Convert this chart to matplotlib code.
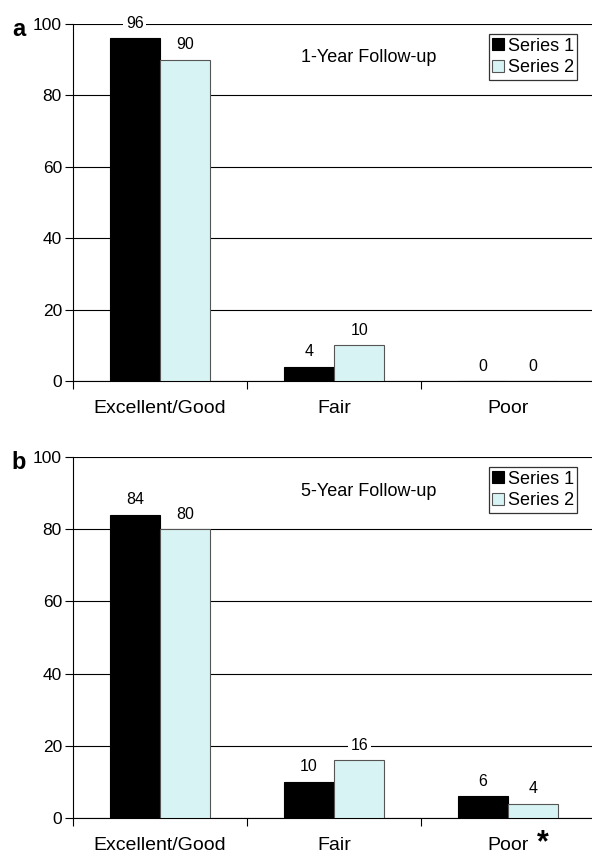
import matplotlib
matplotlib.use("Agg")
import matplotlib.pyplot as plt
import numpy as np

plt.rcParams['font.family'] = ['Liberation Sans', 'DejaVu Sans']

categories = ["Excellent/Good", "Fair", "Poor"]
series_names = ["Series 1", "Series 2"]
one_year_s1 = [96, 4, 0]
one_year_s2 = [90, 10, 0]
five_year_s1 = [84, 10, 6]
five_year_s2 = [80, 16, 4]
yticks = [0, 20, 40, 60, 80, 100]

black = "#000000"
cyan = "#d8f3f3"

fig = plt.figure(figsize=(5.92, 8.55), dpi=100)
# axes run a little past the right edge of the picture, as in the original
ax_a = fig.add_axes([73 / 592, 1 - 381 / 855, 522 / 592, 357 / 855])
ax_b = fig.add_axes([73 / 592, 1 - 818 / 855, 522 / 592, 361 / 855])


def draw_panel(ax, s1, s2, title, letter):
    x = np.arange(len(categories))
    w = 0.29
    b1 = ax.bar(x - w / 2, s1, w, color=black, edgecolor=black, linewidth=0.8,
                label=series_names[0], zorder=3)
    b2 = ax.bar(x + w / 2, s2, w, color=cyan, edgecolor="#555555", linewidth=0.8,
                label=series_names[1], zorder=3)
    for bars in (b1, b2):
        for r in bars:
            h = r.get_height()
            ax.annotate("%d" % h, (r.get_x() + r.get_width() / 2, h),
                        xytext=(0, 15), textcoords="offset pixels",
                        ha="center", va="center", fontsize=11.5,
                        bbox=dict(boxstyle="square,pad=0.15", fc="white", ec="none"),
                        zorder=4, annotation_clip=False)
    ax.set_xlim(-0.5, 2.5)
    ax.set_ylim(0, 100)
    ax.set_yticks(yticks)
    ax.yaxis.grid(True, color="black", linewidth=0.8, zorder=0)
    ax.set_axisbelow(True)
    ax.set_xticks([-0.5, 0.5, 1.5, 2.5])
    ax.set_xticklabels([])
    ax.set_xticks(x, minor=True)
    ax.set_xticklabels(categories, minor=True, fontsize=14)
    ax.tick_params(axis="x", which="minor", length=0, pad=14)
    ax.tick_params(axis="x", which="major", length=6, direction="out", width=0.8)
    ax.tick_params(axis="y", length=6, direction="out", width=0.8, labelsize=12.5, pad=2)
    for s in ("top", "right"):
        ax.spines[s].set_visible(False)
    ax.spines["left"].set_linewidth(0.8)
    ax.spines["bottom"].set_linewidth(0.8)
    ax.text(0.567, 0.905, title, transform=ax.transAxes, ha="center", va="center",
            fontsize=13)
    leg = ax.legend(loc="upper right", bbox_to_anchor=(0.966, 0.972), frameon=True,
                    fancybox=False, edgecolor="black", fontsize=13,
                    handlelength=0.65, handleheight=0.65, handletextpad=0.2,
                    borderpad=0.2, labelspacing=0.25, borderaxespad=0.0)
    leg.get_frame().set_linewidth(0.9)
    ax.text(-0.104, 0.985, letter, transform=ax.transAxes, ha="center", va="center",
            fontsize=17, fontweight="bold")


draw_panel(ax_a, one_year_s1, one_year_s2, "1-Year Follow-up", "a")
draw_panel(ax_b, five_year_s1, five_year_s2, "5-Year Follow-up", "b")
# significance mark next to "Poor"
ax_b.annotate("*", (2, 0), xytext=(35, -25), textcoords="offset pixels",
              fontsize=22, fontweight="bold", ha="center", va="center",
              annotation_clip=False)

fig.savefig("out.png", dpi=100)
